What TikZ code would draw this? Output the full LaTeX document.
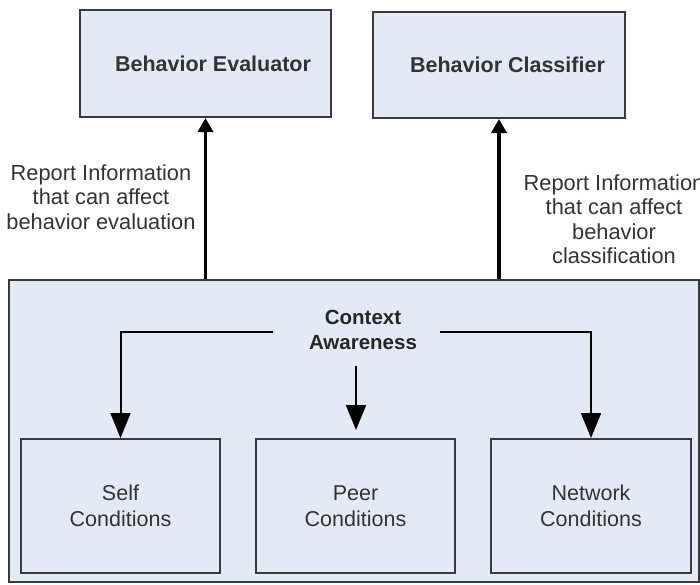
\documentclass[tikz,border=0pt]{standalone}
\usepackage{fontspec}
\setmainfont{Liberation Sans}
\usetikzlibrary{arrows.meta}
\definecolor{boxfill}{HTML}{E4EAF5}
\definecolor{boxline}{HTML}{3A3A3A}
\definecolor{txt}{HTML}{333333}
\begin{document}
\begin{tikzpicture}[x=1pt,y=-1pt,
  box/.style={draw=boxline,line width=2pt,fill=boxfill,inner sep=0pt,
    font=\fontsize{21.5}{25.5}\selectfont,text=txt,align=center},
  title/.style={font=\fontsize{20.5}{25}\selectfont\bfseries,text=black!85,align=center},
  note/.style={font=\fontsize{21.8}{24.5}\selectfont,text=txt,align=center},
  report/.style={line width=3.5pt,-{Triangle[width=15pt,length=14pt]}},
  conn/.style={line width=2pt,-{Triangle[width=20pt,length=25pt]}}]
\useasboundingbox (0,0) rectangle (700,584);

% top-level consumers
\node[box,minimum width=251pt,minimum height=107pt] (eval) at (205.5,63.5)
  {\hspace*{15pt}\textbf{Behavior Evaluator}};
\node[box,minimum width=252pt,minimum height=106pt] (class) at (499,65)
  {\hspace*{17pt}\textbf{Behavior Classifier}};

% context awareness container
\node[box,minimum width=690pt,minimum height=302pt] (ctx) at (354,431) {};
\node[title] (ca) at (363,330) {Context\\Awareness};

% condition sources
\node[box,minimum width=199pt,minimum height=134pt] (self) at (120.5,506) {Self\\Conditions};
\node[box,minimum width=199pt,minimum height=134pt] (peer) at (355.5,506) {Peer\\Conditions};
\node[box,minimum width=200pt,minimum height=134pt] (net) at (591,506) {Network\\Conditions};

% reporting arrows
\draw[report] (ctx.north -| eval.south) -- (eval.south);
\draw[report] (ctx.north -| class.south) -- (class.south);
\node[note] (evlabel) at (101,197) {Report Information\\that can affect\\behavior evaluation};
\node[note] (cllabel) at (614,219) {Report Information\\that can affect\\behavior\\classification};

% context fan-out
\coordinate (caL) at (273,332);
\coordinate (caR) at (440,332);
\coordinate (caM) at (356,366);
\draw[conn] (caL) -| (self.north);
\draw[conn] (caR) -| (net.north);
\draw[conn,shorten >=8pt] (caM) -- (caM |- peer.north);
\end{tikzpicture}
\end{document}
